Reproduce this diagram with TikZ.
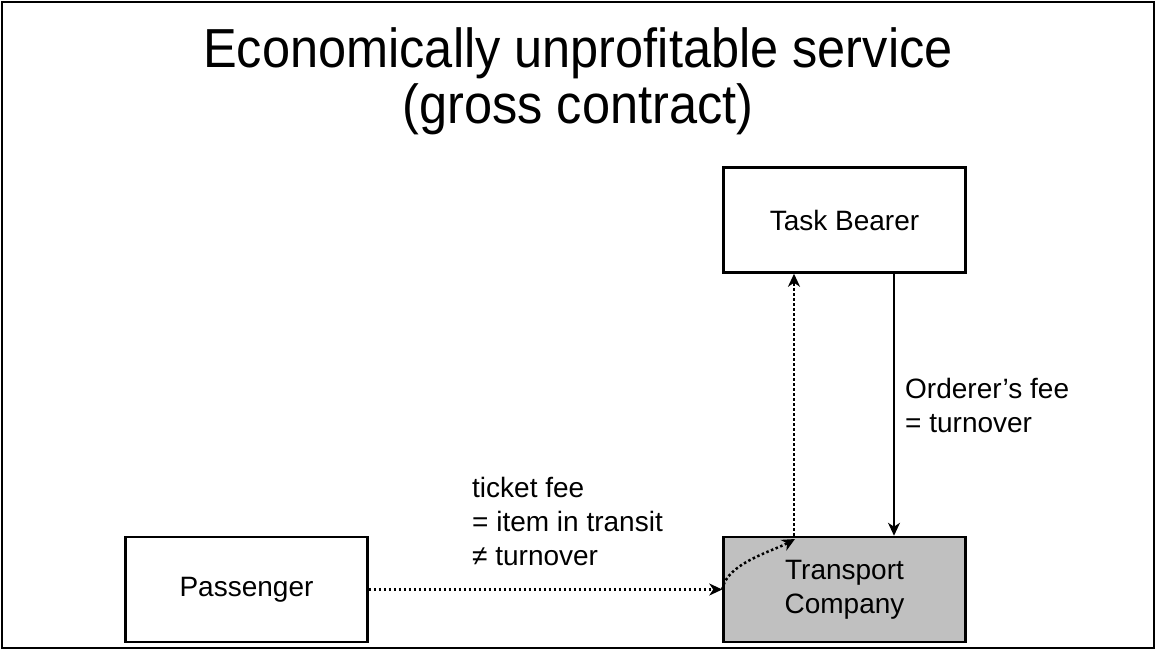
\documentclass[tikz,border=0pt]{standalone}
\usepackage{fontspec}
\setmainfont{Liberation Sans}
\usetikzlibrary{arrows.meta}
\definecolor{boxgray}{RGB}{192,192,192}
\begin{document}
\begin{tikzpicture}[x=1pt,y={(0pt,-1pt)},
  box/.style={draw,line width=2.5pt,minimum width=242pt,minimum height=105pt,inner sep=0pt,align=center,font=\fontsize{28}{34}\selectfont},
  lbl/.style={anchor=base west,inner sep=0pt,font=\fontsize{28}{34}\selectfont},
  ttl/.style={anchor=base,inner sep=0pt,font=\fontsize{50}{55}\selectfont},
  conn/.style={line width=2pt,-{Stealth[length=13pt,width=12pt,inset=4pt]}},
  dotconn/.style={conn,line width=2.5pt,dash pattern=on 2.5pt off 2.5pt}]
\useasboundingbox (0,0) rectangle (1155,650);
\draw[line width=2pt] (1.5,2) rectangle (1153.5,647.5);
\node[ttl] (t1) at (578,68) {\scalebox{1.01}[1.1]{Economically unprofitable service}};
\node[ttl] (t2) at (578,123) {\scalebox{1.01}[1.1]{(gross contract)}};
\node[box] (TB) at (844.5,220) {Task Bearer};
\node[box] (P) at (246.5,589.5) {Passenger};
\node[box,fill=boxgray] (TC) at (844.5,589.5) {Transport\\Company};
\coordinate (up) at (794,0);
\coordinate (dn) at (894,0);
\coordinate (ce) at (795,539);
\draw[dotconn] (P.east) -- (TC.west);
\draw[dotconn] (TC.west) .. controls +(4,-26) and +(-22,12) .. (ce);
\draw[dotconn] (TC.north -| up) -- (TB.south -| up);
\draw[conn] (TB.south -| dn) -- (TC.north -| dn);
\node[lbl] (of1) at (905,398) {Orderer’s fee};
\node[lbl] (of2) at (905,432) {= turnover};
\node[lbl] (tf1) at (472,497) {ticket fee};
\node[lbl] (tf2) at (472,531) {= item in transit};
\node[lbl] (tf3) at (472,565) {≠ turnover};
\end{tikzpicture}
\end{document}
